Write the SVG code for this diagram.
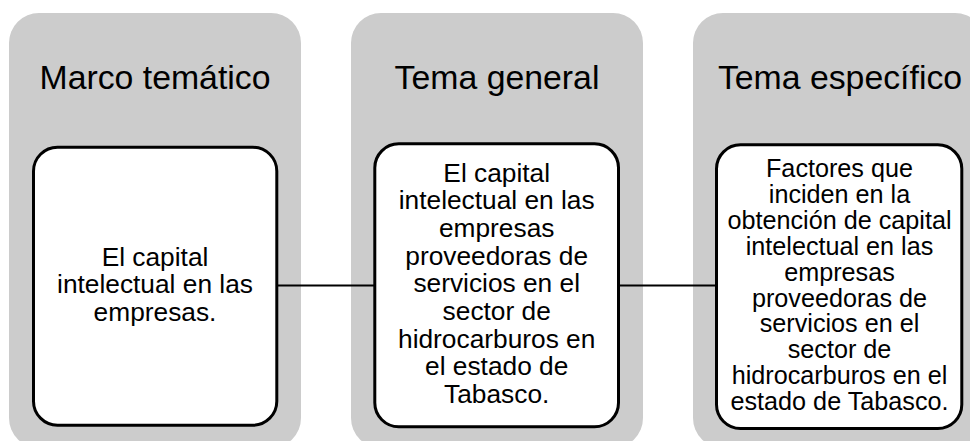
<svg xmlns="http://www.w3.org/2000/svg" width="970" height="441" viewBox="0 0 970 441">
<style>
.panel{fill:#CCCCCC;}
.box{fill:#FFFFFF;stroke:#000000;stroke-width:3;}
.title{font-family:"Liberation Sans",Arial,Helvetica,sans-serif;font-size:33.8px;fill:#000000;text-anchor:middle;}
.body{font-family:"Liberation Sans",Arial,Helvetica,sans-serif;font-size:26.3px;fill:#000000;text-anchor:middle;}
.body3{font-family:"Liberation Sans",Arial,Helvetica,sans-serif;font-size:25.2px;fill:#000000;text-anchor:middle;}
.conn{stroke:#000000;stroke-width:2;fill:none;}
</style>
<rect width="970" height="441" fill="#FFFFFF"/>
<g id="panel-marco">
<rect class="panel" x="9" y="13" width="292" height="435" rx="30" ry="30"/>
<text class="title" x="155" y="89.3">Marco temático</text>
</g>
<g id="panel-general">
<rect class="panel" x="351" y="13" width="292" height="435" rx="30" ry="30"/>
<text class="title" x="497" y="89.3">Tema general</text>
</g>
<g id="panel-especifico">
<rect class="panel" x="693" y="13" width="292" height="435" rx="30" ry="30"/>
<text class="title" x="840" y="89.3">Tema específico</text>
</g>
<g id="connectors">
<line class="conn" x1="277" y1="285.5" x2="375" y2="285.5"/>
<line class="conn" x1="618" y1="285.5" x2="717" y2="285.5"/>
</g>
<g id="node-marco">
<rect class="box" x="33.5" y="147.2" width="243.3" height="278" rx="24" ry="24"/>
<text class="body" x="155" y="265.8">El capital</text>
<text class="body" x="155" y="293.3">intelectual en las</text>
<text class="body" x="155" y="320.8">empresas.</text>
</g>
<g id="node-general">
<rect class="box" x="374.8" y="143.8" width="243.7" height="283" rx="24" ry="24"/>
<text class="body" x="496.7" y="181.5">El capital</text>
<text class="body" x="496.7" y="209.2">intelectual en las</text>
<text class="body" x="496.7" y="236.9">empresas</text>
<text class="body" x="496.7" y="264.6">proveedoras de</text>
<text class="body" x="496.7" y="292.3">servicios en el</text>
<text class="body" x="496.7" y="320">sector de</text>
<text class="body" x="496.7" y="347.7">hidrocarburos en</text>
<text class="body" x="496.7" y="375.4">el estado de</text>
<text class="body" x="496.7" y="403.1">Tabasco.</text>
</g>
<g id="node-especifico">
<rect class="box" x="716.5" y="144.8" width="245.3" height="283.7" rx="24" ry="24"/>
<text class="body3" x="839.5" y="177.3">Factores que</text>
<text class="body3" x="839.5" y="203.2">inciden en la</text>
<text class="body3" x="839.5" y="229">obtención de capital</text>
<text class="body3" x="839.5" y="254.9">intelectual en las</text>
<text class="body3" x="839.5" y="280.7">empresas</text>
<text class="body3" x="839.5" y="306.6">proveedoras de</text>
<text class="body3" x="839.5" y="332.4">servicios en el</text>
<text class="body3" x="839.5" y="358.3">sector de</text>
<text class="body3" x="839.5" y="384.1">hidrocarburos en el</text>
<text class="body3" x="839.5" y="410">estado de Tabasco.</text>
</g>
</svg>
